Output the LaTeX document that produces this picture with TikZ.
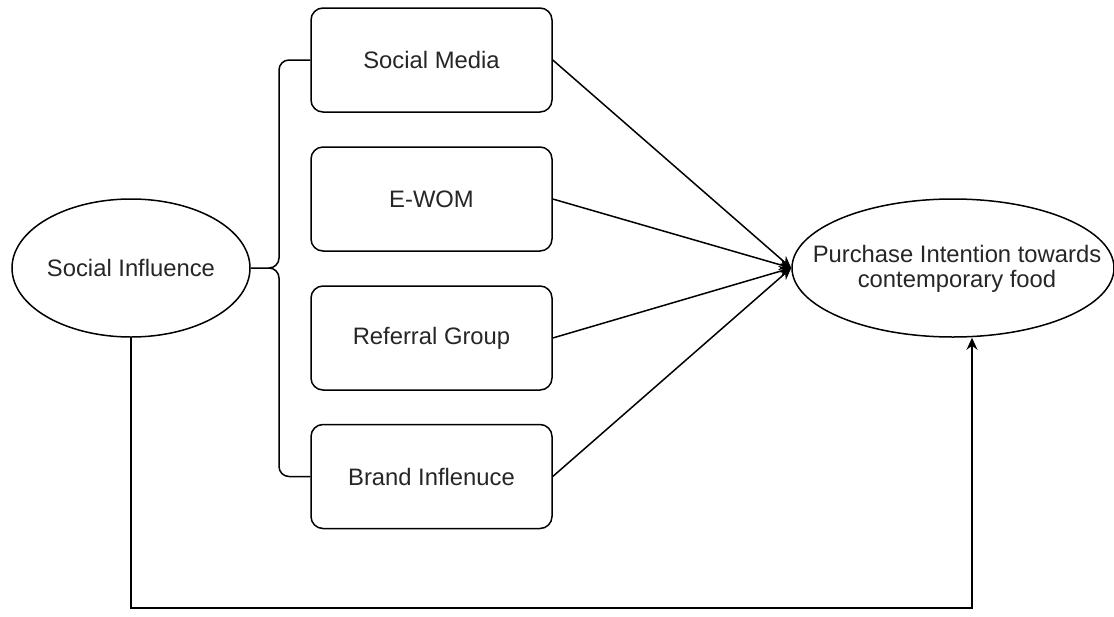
\documentclass[tikz,border=0pt]{standalone}
\usepackage{fontspec}
\setmainfont{Liberation Sans}
\usetikzlibrary{arrows.meta,shapes.geometric}
\begin{document}
\begin{tikzpicture}[x=0.5pt,y=-0.5pt,
  line width=0.75pt,
  every node/.style={font=\fontsize{11.9}{12.5}\selectfont, text=black!85},
  oval/.style={draw, ellipse, inner sep=0pt, align=center},
  card/.style={draw, rounded corners=6pt, minimum width=120.5pt, minimum height=52pt, inner sep=0pt},
  arr/.style={-{Stealth[length=6pt,width=5.5pt]}}
]
\useasboundingbox[fill=white] (0,0) rectangle (1114,616);
\node[oval, minimum width=119pt, minimum height=69pt] (si) at (131,268) {Social Influence};
\node[oval, minimum width=161pt, minimum height=69pt] (pi) at (953,268) {};
\node[align=center] (pit) at (957,269) {Purchase Intention towards\\contemporary food};
\node[card] (sm) at (431.5,60) {Social Media};
\node[card] (ew) at (431.5,199) {E-WOM};
\node[card] (rg) at (431.5,338) {Referral Group};
\node[card] (bi) at (431.5,476.5) {Brand Inflenuce};
% brace
\draw (sm.west) -- (289,60) to[out=180,in=90] (279,70) -- (279,258) to[out=-90,in=0] (269,268) -- (si.east);
\draw (269,268) to[out=0,in=90] (279,278) -- (279,466.5) to[out=-90,in=180] (289,476.5) -- (bi.west);
% arrows
\draw[arr] (sm.east) -- (pi.west);
\draw[arr] (ew.east) -- (pi.west);
\draw[arr] (rg.east) -- (pi.west);
\draw[arr] (bi.east) -- (pi.west);
% bottom feedback
\coordinate (b1) at (131,608);
\coordinate (b2) at (972,608);
\draw[arr] (si.south) -- (b1) -- (b2) -- (b2 |- pi.south);
\end{tikzpicture}
\end{document}
